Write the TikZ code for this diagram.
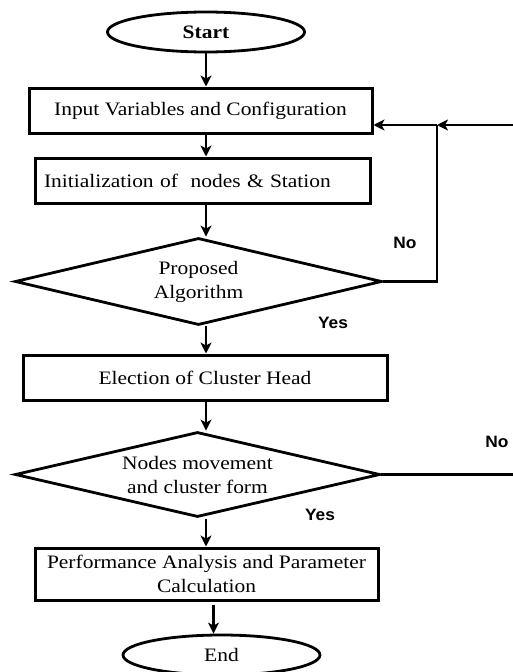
\documentclass[tikz,border=0pt]{standalone}
\usepackage{fontspec}
\setmainfont{Liberation Serif}[FakeStretch=1.13]
\newfontfamily\lblfont{Liberation Sans}[FakeStretch=1.05]
\usetikzlibrary{shapes.geometric,arrows.meta}
\tikzset{
  line/.style={line width=2.4pt, draw=black},
  arr/.style={line, -{Stealth[length=11pt,width=11pt,inset=3pt]}},
  txt/.style={font=\fontsize{19}{24}\selectfont, align=center},
  term/.style={ellipse, line width=2.8pt, draw, minimum width=197pt, minimum height=40pt, inner sep=0pt, txt},
  procbox/.style={rectangle, line width=3pt, draw, inner sep=0pt, txt},
  decision/.style={diamond, aspect=4.2, line width=2.8pt, draw, inner sep=0pt, txt},
  yn/.style={font=\lblfont\bfseries\fontsize{16.5}{18}\selectfont, inner sep=0pt}
}
\begin{document}
\begin{tikzpicture}[x=1pt,y=-1pt]
\useasboundingbox (0,0) rectangle (513,672);
\node[term] (start) at (206,32) {\bfseries Start};
\node[procbox, minimum width=343pt, minimum height=45pt] (input) at (200.5,110.5) {Input Variables and Configuration};
\node[procbox, minimum width=335pt, minimum height=45pt, text width=317pt, align=left] (init) at (202.5,180.5) {Initialization of \ nodes \& Station};
\node[decision, minimum width=367pt, minimum height=87pt] (d1) at (198.5,281.5) {Proposed\\Algorithm};
\node[procbox, minimum width=364pt, minimum height=45pt] (elect) at (205,377.5) {Election of Cluster Head};
\node[decision, minimum width=365pt, minimum height=85pt] (d2) at (197.5,474.5) {Nodes movement\\and cluster form};
\node[procbox, minimum width=343pt, minimum height=52pt] (perf) at (206.5,574) {Performance Analysis and Parameter\\Calculation};
\node[term] (end) at (221.5,655) {End};

\node[yn] (no1) at (405,243) {No};
\node[yn] (yes1) at (333,323) {Yes};
\node[yn] (no2) at (497,442) {No};
\node[yn] (yes2) at (320,515) {Yes};

\coordinate (jct) at (437,125);
\coordinate (rin) at (513,125);
\coordinate (rout) at (513,474.5);

\draw[arr] (start.south) -- (start.south |- input.north);
\draw[arr] (input.south -| start) -- (init.north -| start);
\draw[arr] (init.south -| start) -- (d1.north -| start);
\draw[arr] (d1.south -| start) -- (elect.north -| start);
\draw[arr] (elect.south -| start) -- (d2.north -| start);
\draw[arr] ([yshift=-1pt]d2.south -| start) -- (perf.north -| start);
\draw[arr] ([xshift=-8pt,yshift=-3pt]perf.south -| end.north) -- ([xshift=-8pt]end.north);

\draw[line] (d1.east) -| (jct);
\draw[arr] (jct) -- (input.east |- jct);
\draw[arr] (rin) -- (jct);
\draw[line] (d2.east) -- (rout);
\end{tikzpicture}
\end{document}
